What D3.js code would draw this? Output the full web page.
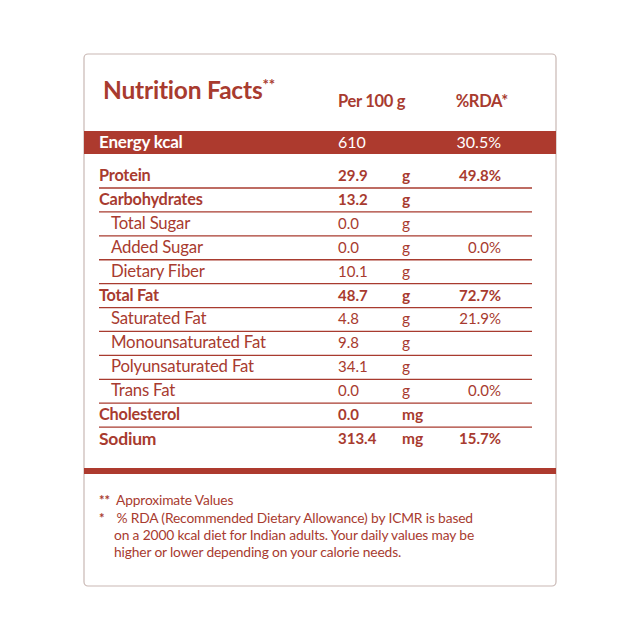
<!DOCTYPE html>
<html><head><meta charset="utf-8">
<script src="https://cdn.jsdelivr.net/npm/d3@7"></script>
<style>
html,body{margin:0;padding:0;background:#fff;}
svg{display:block;}
text{font-family:Lato,"Open Sans",sans-serif;}
</style></head>
<body><svg id="c" width="640" height="640"></svg>
<script>
const title = "Nutrition Facts";
const colHeaders = ["Per 100 g", "%RDA*"];
const energy = {label: "Energy kcal", value: "610", rda: "30.5%"};
const nutrients = ["Protein","Carbohydrates","Total Sugar","Added Sugar","Dietary Fiber","Total Fat","Saturated Fat","Monounsaturated Fat","Polyunsaturated Fat","Trans Fat","Cholesterol","Sodium"];
const values = ["29.9","13.2","0.0","0.0","10.1","48.7","4.8","9.8","34.1","0.0","0.0","313.4"];
const units = ["g","g","g","g","g","g","g","g","g","g","mg","mg"];
const rdas = ["49.8%","","","0.0%","","72.7%","21.9%","","","0.0%","","15.7%"];
const isMain = [true,true,false,false,false,true,false,false,false,false,true,true];
const footnotes = [
  {mark:"**", lines:["Approximate Values"]},
  {mark:"*", lines:[" % RDA (Recommended Dietary Allowance) by ICMR is based","on a 2000 kcal diet for Indian adults. Your daily values may be","higher or lower depending on your calorie needs."]}
];

const RED = "#a83b2f", BAND = "#ad3a2e";
const svg = d3.select("#c");

// outer box
svg.append("rect").attr("x",84).attr("y",54).attr("width",472).attr("height",532)
  .attr("rx",4).attr("fill","#fff").attr("stroke","#c9b8b4").attr("stroke-width",1.2);

// title
const t = svg.append("text").attr("x",103).attr("y",99).attr("fill",RED)
  .attr("font-size",24.5).attr("font-weight",700).attr("letter-spacing",-0.2).text(title);
t.append("tspan").attr("dy",-9).attr("font-size",15).text("**");

// columns
const cols = {label:99, sub:111, value:338, unit:402, rda:501};
svg.selectAll("text.hdr").data(colHeaders).join("text").attr("class","hdr")
  .attr("x",(d,i)=> i===0 ? cols.value : cols.rda+7)
  .attr("text-anchor",(d,i)=> i===0 ? "start":"end")
  .attr("y",107).attr("fill",RED).attr("font-size",16.5).attr("font-weight",700)
  .attr("letter-spacing",-0.3).text(d=>d);

// energy band
svg.append("rect").attr("x",84).attr("y",131).attr("width",472).attr("height",23).attr("fill",BAND);
svg.append("text").attr("x",cols.label).attr("y",148).attr("fill","#fff").attr("font-size",17)
  .attr("font-weight",700).attr("letter-spacing",-0.2).text(energy.label);
svg.append("text").attr("x",cols.value).attr("y",148).attr("fill","#fff").attr("font-size",16)
  .text(energy.value);
svg.append("text").attr("x",cols.rda).attr("y",148).attr("fill","#fff").attr("font-size",16)
  .attr("text-anchor","end").text(energy.rda);

// rows
const y = d3.scaleBand().domain(nutrients).range([164.1, 451]).padding(0);
const rows = svg.selectAll("g.row").data(nutrients).join("g").attr("class","row")
  .attr("transform", d => `translate(0,${y(d)})`);
const bw = y.bandwidth();
rows.filter((d,i)=> i < nutrients.length-1).append("line")
  .attr("x1",99).attr("x2",532).attr("y1",bw).attr("y2",bw)
  .attr("stroke",RED).attr("stroke-width",1.3);
const base = bw - 7;
rows.append("text").attr("x",(d,i)=> isMain[i]?cols.label:cols.sub).attr("y",(d,i)=> i===nutrients.length-1 ? base+1 : base)
  .attr("fill",RED).attr("font-size",(d,i)=> i===nutrients.length-1 ? 17.5 : (isMain[i]?16.3:16.8))
  .attr("font-weight",(d,i)=> isMain[i]?700:400).attr("letter-spacing",-0.2).text(d=>d);
rows.append("text").attr("x",cols.value).attr("y",base).attr("fill",RED)
  .attr("font-size",15).attr("font-weight",(d,i)=> isMain[i]?700:400).text((d,i)=>values[i]);
rows.append("text").attr("x",cols.unit).attr("y",base).attr("fill",RED)
  .attr("font-size",15.5).attr("font-weight",(d,i)=> isMain[i]?700:400).text((d,i)=>units[i]);
rows.append("text").attr("x",cols.rda).attr("y",base).attr("fill",RED).attr("text-anchor","end")
  .attr("font-size",15).attr("font-weight",(d,i)=> isMain[i]?700:400).text((d,i)=>rdas[i]);

// thick bar
svg.append("rect").attr("x",84).attr("y",468).attr("width",472).attr("height",6).attr("fill",BAND);

// footnotes
let fy = 505;
footnotes.forEach(f => {
  svg.append("text").attr("x",99).attr("y",fy).attr("fill",RED).attr("font-size",13)
    .attr("font-weight",700).text(f.mark);
  f.lines.forEach((ln,j) => {
    svg.append("text").attr("x", j===0 ? (f.mark.length===2?116:113) : 114).attr("y",fy).attr("fill",RED)
      .attr("font-size",13.8).attr("letter-spacing",-0.15).attr("xml:space","preserve").text(ln);
    fy += 17;
  });
  if (f.lines.length===1) fy += 1;
});
</script></body></html>
